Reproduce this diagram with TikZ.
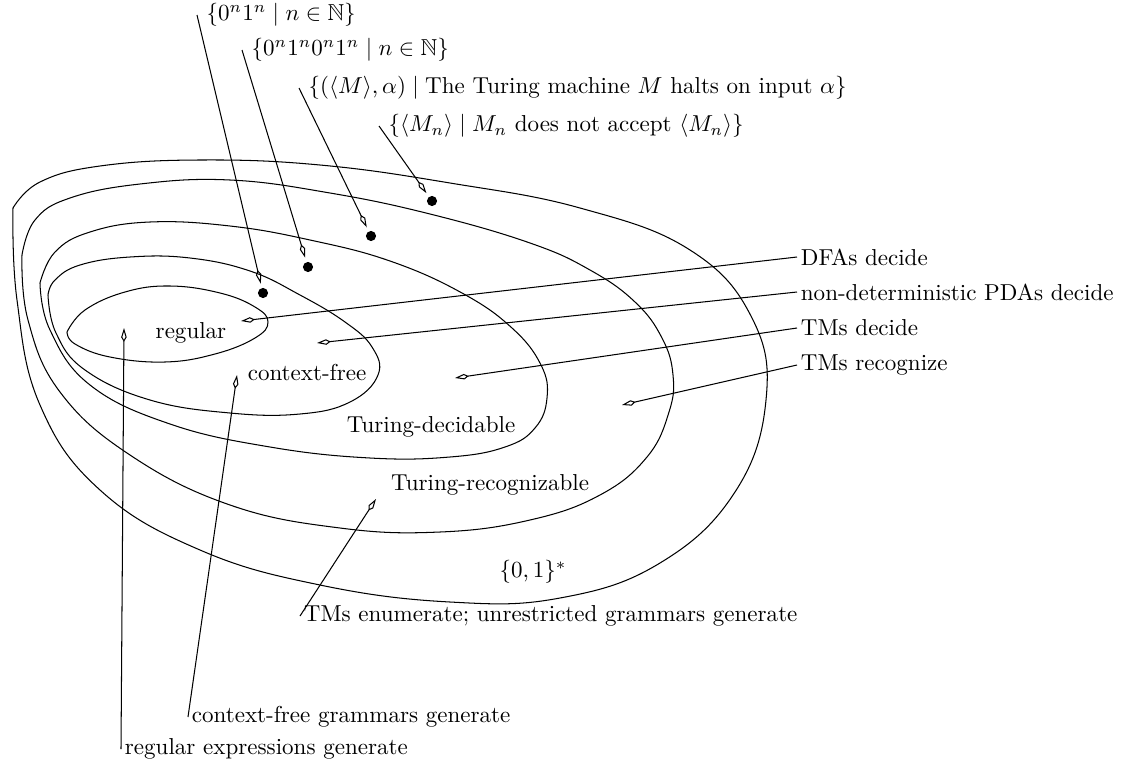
\documentclass[tikz,border=0pt]{standalone}
\usepackage{amssymb}
\usetikzlibrary{arrows.meta}
\begin{document}
\begin{tikzpicture}[x=0.434pt,y=-0.434pt,
  region/.style={line width=0.45pt},
  ptr/.style={line width=0.45pt,-{Kite[open,length=6pt,width=2.4pt,inset=2pt]}},
  dot/.style={circle,fill,inner sep=0pt,minimum size=4.4pt},
  lbl/.style={anchor=west,inner xsep=1.5pt,inner ysep=1pt},
  toplbl/.style={anchor=west,inner xsep=4pt,inner ysep=1pt},
  inlbl/.style={inner sep=1pt}]
\useasboundingbox (0,0) rectangle (1124,763);

% nested regions
\draw[region] plot[smooth,tension=0.7] coordinates {(13,208) (17,300) (40,405) (100,490) (200,550) (320,585) (450,602) (560,598) (660,563) (735,492) (766,400) (752,318) (690,250) (580,208) (450,183) (320,165) (200,160) (100,166) (40,182) (13,208)};
\draw[region] plot[smooth,tension=0.7] coordinates {(22,255) (28,320) (60,392) (130,455) (230,505) (340,528) (440,532) (530,520) (600,495) (647,457) (669,412) (673,375) (662,338) (635,302) (590,270) (530,243) (430,214) (330,193) (230,180) (140,184) (70,198) (35,220) (22,255)};
\draw[region] plot[smooth,tension=0.7] coordinates {(40,283) (50,330) (90,385) (170,424) (270,447) (370,458) (450,457) (505,447) (535,428) (547,398) (541,365) (512,328) (462,293) (390,261) (310,240) (230,226) (150,222) (90,232) (55,252) (40,283)};
\draw[region] plot[smooth,tension=0.7] coordinates {(48,295) (56,333) (85,370) (150,400) (230,413) (300,414) (350,402) (378,375) (372,347) (345,322) (300,295) (250,271) (190,258) (130,257) (80,265) (55,280) (48,295)};
\draw[region] plot[smooth,tension=0.7] coordinates {(67,332) (85,310) (125,292) (170,286) (220,293) (255,307) (268,322) (255,338) (215,354) (165,362) (110,357) (75,344) (67,332)};

% region names
\node[inlbl] (nreg) at (191,333) {regular};
\node[inlbl] (ncf) at (307,372) {context-free};
\node[inlbl] (ntd) at (431,427) {Turing-decidable};
\node[inlbl] (ntr) at (490,485) {Turing-recognizable};
\node[inlbl] (nall) at (533,572) {$\{0,1\}^*$};

% example languages
\node[dot] (d1) at (263,293) {};
\node[dot] (d2) at (308,267) {};
\node[dot] (d3) at (371,236) {};
\node[dot] (d4) at (432,201) {};
\node[toplbl] (l1) at (197,15) {$\{0^n1^n \mid n\in\mathbb{N}\}$};
\node[toplbl] (l2) at (242,50) {$\{0^n1^n0^n1^n \mid n\in\mathbb{N}\}$};
\node[toplbl] (l3) at (299,88) {$\{(\langle M\rangle,\alpha) \mid \mbox{The Turing machine } M \mbox{ halts on input } \alpha\}$};
\node[toplbl] (l4) at (379,126) {$\{\langle M_n\rangle \mid M_n \mbox{ does not accept } \langle M_n\rangle\}$};
\draw[ptr,shorten >=1.8pt] (l1.west) -- (d1);
\draw[ptr,shorten >=1.8pt] (l2.west) -- (d2);
\draw[ptr,shorten >=1.8pt] (l3.west) -- (d3);
\draw[ptr,shorten >=1.8pt] (l4.west) -- (d4);

% machines on the right
\coordinate (t1) at (241,321);
\coordinate (t2) at (317,343);
\coordinate (t3) at (455,378);
\coordinate (t4) at (622,405);
\node[lbl] (r1) at (797,257) {DFAs decide};
\node[lbl] (r2) at (797,292) {non-deterministic PDAs decide};
\node[lbl] (r3) at (797,328) {TMs decide};
\node[lbl] (r4) at (797,365) {TMs recognize};
\draw[ptr] (r1.west) -- (t1);
\draw[ptr] (r2.west) -- (t2);
\draw[ptr] (r3.west) -- (t3);
\draw[ptr] (r4.west) -- (t4);

% generators at the bottom
\coordinate (t5) at (376,499);
\coordinate (t6) at (237,375);
\coordinate (t7) at (124,328);
\node[lbl] (b1) at (300,616) {TMs enumerate; unrestricted grammars generate};
\node[lbl] (b2) at (188,717) {context-free grammars generate};
\node[lbl] (b3) at (121,749) {regular expressions generate};
\draw[ptr] (b1.west) -- (t5);
\draw[ptr] (b2.west) -- (t6);
\draw[ptr] (b3.west) -- (t7);
\end{tikzpicture}
\end{document}
